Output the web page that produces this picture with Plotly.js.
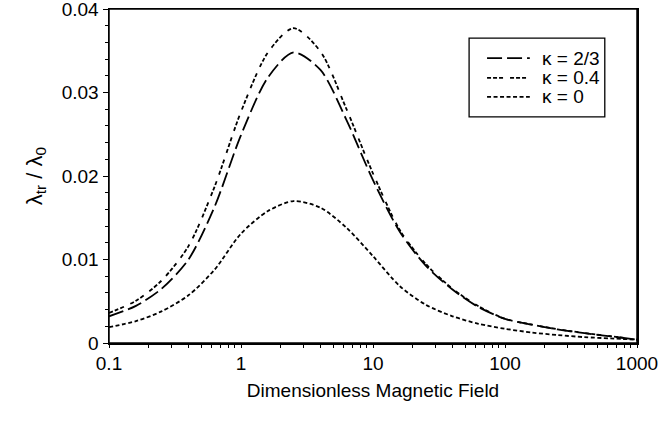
<!DOCTYPE html>
<html>
<head>
<meta charset="utf-8">
<script src="https://cdn.plot.ly/plotly-3.0.1.min.js"></script>
<style>html,body{margin:0;padding:0;background:#fff;}#chart{width:660px;height:431px;}</style>
</head>
<body>
<div id="chart"></div>
<script>
var fieldValues = [0.1, 0.16, 0.25, 0.4, 0.63, 1, 1.6, 2.5, 4, 6.3, 10, 16, 25, 40, 63, 100, 160, 250, 400, 630, 1000];
var kappa23 = [0.0032, 0.00445, 0.0065, 0.0100, 0.0163, 0.0249, 0.0318, 0.0348, 0.0327, 0.0267, 0.0195, 0.0133, 0.0093, 0.0064, 0.0043, 0.0029, 0.0022, 0.00163, 0.00117, 0.0008, 0.0004];
var kappa04 = [0.0036, 0.00506, 0.00747, 0.0116, 0.0187, 0.0277, 0.0348, 0.0377, 0.0349, 0.0280, 0.0203, 0.0135, 0.0095, 0.0065, 0.0044, 0.0029, 0.0022, 0.00165, 0.0012, 0.00082, 0.0004];
var kappa0 = [0.0019, 0.00262, 0.00379, 0.00571, 0.00878, 0.0131, 0.0158, 0.0170, 0.0162, 0.0138, 0.0104, 0.0068, 0.0046, 0.0032, 0.0023, 0.0017, 0.00125, 0.00095, 0.0007, 0.00055, 0.0004];
var seriesNames = ['\u03ba = 2/3', '\u03ba = 0.4', '\u03ba = 0'];
var xTickVals = [0.1, 1, 10, 100, 1000];
var xTickText = ['0.1', '1', '10', '100', '1000'];
var yTickVals = [0, 0.01, 0.02, 0.03, 0.04];
var yTickText = ['0', '0.01', '0.02', '0.03', '0.04'];

var font = 'Arial, "Liberation Sans", sans-serif';
var dashes = ['15px,5px', '4px,2px,4px,2px,4px,7px', '4px,2.5px'];
var series = [kappa23, kappa04, kappa0];
var traces = series.map(function (ys, i) {
  return {x: fieldValues, y: ys, name: seriesNames[i], mode: 'lines', showlegend: false,
          line: {color: '#000', width: 1.8, dash: dashes[i], shape: 'spline', smoothing: 0.8}};
});

// legend drawn in paper coordinates
var legX0 = 0.682, legX1 = 0.939, legY0 = 0.677, legY1 = 0.913;
var sampleX0 = 0.716, sampleX1 = 0.797, textX = 0.816;
var rowY = [0.853, 0.794, 0.737];
var shapes = [
  {type: 'rect', xref: 'paper', yref: 'paper', x0: 0, x1: 1, y0: 0, y1: 1, line: {color: '#000', width: 1.5}},
  {type: 'rect', xref: 'paper', yref: 'paper', x0: legX0, x1: legX1, y0: legY0, y1: legY1, line: {color: '#000', width: 1.3}, fillcolor: 'rgba(0,0,0,0)'}
];
var annotations = [];
seriesNames.forEach(function (nm, i) {
  shapes.push({type: 'line', xref: 'paper', yref: 'paper', x0: sampleX0, x1: sampleX1, y0: rowY[i], y1: rowY[i], line: {color: '#000', width: 1.8, dash: dashes[i]}});
  annotations.push({xref: 'paper', yref: 'paper', x: textX, y: rowY[i], xanchor: 'left', yanchor: 'middle', text: nm, showarrow: false, font: {family: font, size: 19, color: '#000'}});
});

var layout = {
  width: 660, height: 431,
  margin: {l: 109, r: 23, t: 9, b: 88},
  paper_bgcolor: '#fff', plot_bgcolor: '#fff',
  font: {family: font, size: 19, color: '#000'},
  showlegend: false,
  shapes: shapes,
  annotations: annotations,
  xaxis: {
    type: 'log', range: [-1, 3],
    tickvals: xTickVals, ticktext: xTickText,
    ticks: 'outside', ticklen: 3, tickcolor: '#000',
    minor: {ticks: 'outside', ticklen: 3, tickcolor: '#000', dtick: 'D1', showgrid: false},
    showline: true, linecolor: '#000', linewidth: 1.5, mirror: true,
    showgrid: false, zeroline: false, ticklabeloverflow: 'allow',
    tickfont: {family: font, size: 19},
    title: {text: 'Dimensionless Magnetic Field', font: {family: font, size: 19}, standoff: 10}
  },
  yaxis: {
    range: [0, 0.04],
    tickvals: yTickVals, ticktext: yTickText,
    ticks: 'outside', ticklen: 5, tickcolor: '#000',
    minor: {ticks: 'outside', ticklen: 3, tickcolor: '#000', dtick: 0.002, showgrid: false},
    showline: true, linecolor: '#000', linewidth: 1.5, mirror: true,
    showgrid: false, zeroline: false, ticklabeloverflow: 'allow',
    tickfont: {family: font, size: 19},
    title: {text: '\u03bb<sub>tr</sub> / \u03bb<sub>0</sub>', font: {family: font, size: 22}, standoff: 13}
  }
};
Plotly.newPlot('chart', traces, layout, {staticPlot: true, displayModeBar: false});
</script>
</body>
</html>
